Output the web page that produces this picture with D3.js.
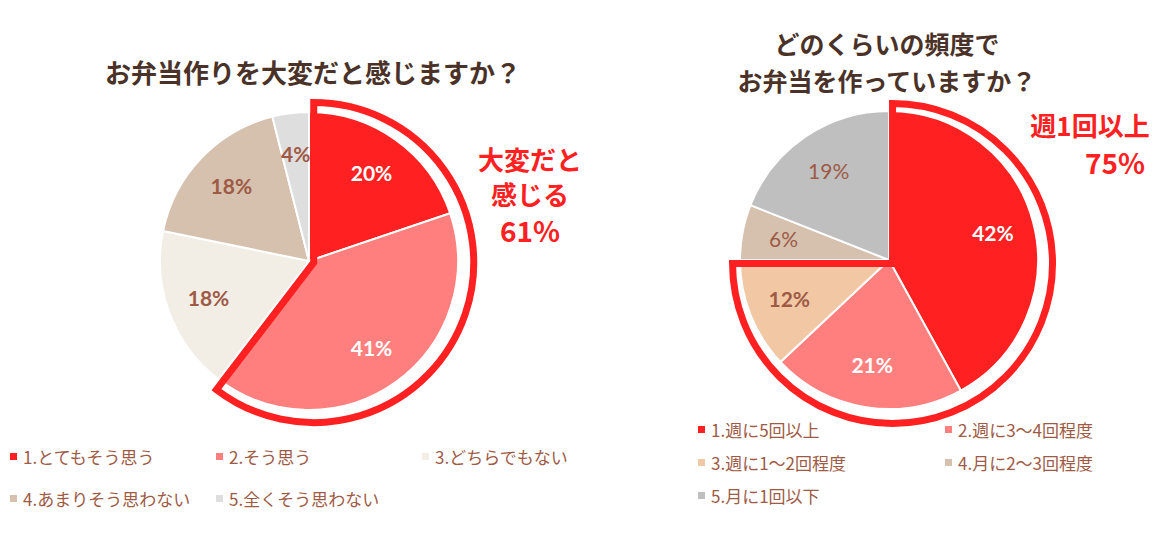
<!DOCTYPE html>
<html><head><meta charset="utf-8">
<script src="https://cdn.jsdelivr.net/npm/d3@7"></script>
<style>body{margin:0;background:#fff;font-family:"Noto Sans CJK JP","Noto Sans",sans-serif}</style>
</head><body><svg id="c" width="1161" height="550"></svg>
<script>
const leftLabels=["1.とてもそう思う","2.そう思う","3.どちらでもない","4.あまりそう思わない","5.全くそう思わない"];
const leftValues=[20,41,18,18,4];
const leftColors=["#ff2121","#ff7f7f","#f2ede5","#d5c1ae","#dedede"];
const leftText=["#fff","#fff","#9e5a45","#9e5a45","#9e5a45"];
const rightLabels=["1.週に5回以上","2.週に3～4回程度","3.週に1～2回程度","4.月に2～3回程度","5.月に1回以下"];
const rightValues=[42,21,12,6,19];
const rightColors=["#ff2121","#ff7f7f","#f2c7a4","#d5c1ae","#bfbfbf"];
const rightText=["#fff","#fff","#9e5a45","#9e5a45","#9e5a45"];
const svg=d3.select("#c");
const brown="#9e5a45", dark="#4a3228", red="#ff2121";

function pie(cx,cy,r,vals,cols,tcols,hiN,weights){
  const g=svg.append("g").attr("transform",`translate(${cx},${cy})`);
  const arcs=d3.pie().sort(null)(vals);
  const arc=d3.arc().innerRadius(0).outerRadius(r);
  g.selectAll("path.s").data(arcs).join("path").attr("d",arc)
    .attr("fill",(d,i)=>cols[i]).attr("stroke","#fff").attr("stroke-width",2);
  const la=d3.arc().innerRadius(r*0.72).outerRadius(r*0.72);
  g.selectAll("text").data(arcs).join("text")
    .attr("transform",d=>`translate(${la.centroid(d)})`).attr("text-anchor","middle").attr("dy","0.35em")
    .attr("fill",(d,i)=>tcols[i]).attr("font-size",21).attr("font-weight",(d,i)=>weights[i])
    .attr("font-family","Lato,'Noto Sans',sans-serif").text(d=>d.value+"%");
  const end=arcs[hiN-1].endAngle;
  const ho=d3.arc().innerRadius(0).outerRadius(r+11).startAngle(0).endAngle(end);
  g.append("path").attr("d",ho()).attr("fill","none").attr("stroke",red).attr("stroke-width",7)
    .attr("stroke-linejoin","miter").attr("transform",`translate(${5*Math.cos(end/2-Math.PI/2)},${5*Math.sin(end/2-Math.PI/2)})`);
}
pie(309,261,149,leftValues,leftColors,leftText,2,["bold","bold","bold","bold","bold"]);
pie(889,260,149,rightValues,rightColors,rightText,3,["bold","bold","bold","normal","normal"]);

function t(x,y,s,size,fill,anchor,w){svg.append("text").attr("x",x).attr("y",y).attr("font-size",size)
  .attr("fill",fill).attr("text-anchor",anchor||"middle").attr("font-weight",w||"bold").text(s);}
t(313,83,"お弁当作りを大変だと感じますか？",26,dark);
t(887,54,"どのくらいの頻度で",25,dark);
t(887,91,"お弁当を作っていますか？",25,dark);
t(530,170,"大変だと",26,red);t(530,205,"感じる",26,red);t(530,242,"61%",28,red);
t(1090,136,"週1回以上",26,red);t(1145,174,"75%",28,red,"end");

function legend(items,cols,pos){
  items.forEach((s,i)=>{const [x,y]=pos[i];
    svg.append("rect").attr("x",x).attr("y",y-5).attr("width",7).attr("height",7).attr("fill",cols[i]);
    t(x+13,y+6,s,17,brown,"start","normal");});
}
legend(leftLabels,leftColors,[[10,458],[216,458],[422,458],[10,500],[216,500]]);
legend(rightLabels,rightColors,[[698,431],[945,431],[698,464],[945,464],[698,497]]);
</script></body></html>
